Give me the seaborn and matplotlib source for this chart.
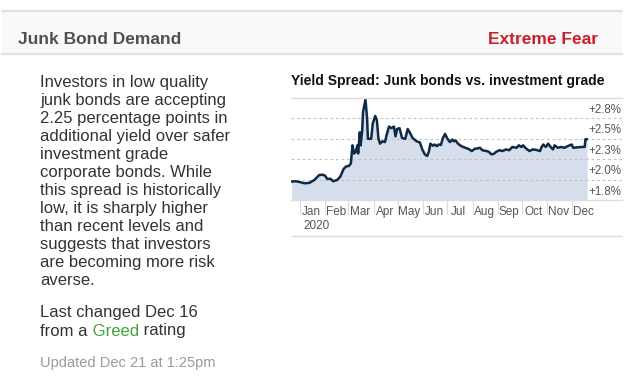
import numpy as np
import pandas as pd
import matplotlib
matplotlib.use('Agg')
import matplotlib.pyplot as plt
import matplotlib.dates as mdates
import matplotlib.transforms as mtransforms
from matplotlib.lines import Line2D
from matplotlib.patches import Rectangle
import seaborn as sns

# yield spread
dates = ['2019-12-22', '2019-12-27', '2020-01-01', '2020-01-07', '2020-01-13', '2020-01-19',
         '2020-01-25', '2020-01-29', '2020-02-01', '2020-02-04', '2020-02-08', '2020-02-11',
         '2020-02-16', '2020-02-20', '2020-02-24', '2020-02-27', '2020-03-02', '2020-03-04',
         '2020-03-06', '2020-03-08', '2020-03-10', '2020-03-12', '2020-03-13', '2020-03-15',
         '2020-03-16', '2020-03-18', '2020-03-19', '2020-03-22', '2020-03-24', '2020-03-25',
         '2020-03-29', '2020-03-31', '2020-04-03', '2020-04-05', '2020-04-07', '2020-04-09',
         '2020-04-12', '2020-04-15', '2020-04-17', '2020-04-20', '2020-04-23', '2020-04-26',
         '2020-04-28', '2020-04-30', '2020-05-03', '2020-05-06', '2020-05-10', '2020-05-13',
         '2020-05-16', '2020-05-19', '2020-05-24', '2020-05-28', '2020-05-31', '2020-06-03',
         '2020-06-06', '2020-06-08', '2020-06-10', '2020-06-13', '2020-06-15', '2020-06-18',
         '2020-06-20', '2020-06-23', '2020-06-25', '2020-06-28', '2020-07-01', '2020-07-04',
         '2020-07-07', '2020-07-09', '2020-07-11', '2020-07-14', '2020-07-18', '2020-07-23',
         '2020-07-27', '2020-07-31', '2020-08-04', '2020-08-06', '2020-08-10', '2020-08-13',
         '2020-08-18', '2020-08-21', '2020-08-24', '2020-08-27', '2020-08-30', '2020-09-03',
         '2020-09-07', '2020-09-11', '2020-09-15', '2020-09-19', '2020-09-24', '2020-09-27',
         '2020-09-30', '2020-10-02', '2020-10-06', '2020-10-10', '2020-10-14', '2020-10-18',
         '2020-10-23', '2020-10-25', '2020-10-27', '2020-10-30', '2020-11-02', '2020-11-05',
         '2020-11-08', '2020-11-10', '2020-11-14', '2020-11-18', '2020-11-22', '2020-11-26',
         '2020-12-01', '2020-12-03', '2020-12-08', '2020-12-13', '2020-12-17', '2020-12-18',
         '2020-12-20']
spread = [1.725, 1.73, 1.72, 1.705, 1.71, 1.745,
          1.806, 1.81, 1.80, 1.758, 1.76, 1.73,
          1.745, 1.786, 1.88, 1.91, 1.92, 1.95,
          2.17, 2.07, 2.09, 2.17, 2.07, 2.33,
          2.17, 2.36, 2.58, 2.73, 2.50, 2.25,
          2.25, 2.44, 2.53, 2.48, 2.25, 2.19,
          2.22, 2.21, 2.295, 2.40, 2.38, 2.40,
          2.28, 2.37, 2.38, 2.26, 2.25, 2.37,
          2.32, 2.26, 2.22, 2.205, 2.12, 2.06,
          2.04, 2.09, 2.19, 2.165, 2.18, 2.16,
          2.18, 2.175, 2.25, 2.31, 2.25, 2.21,
          2.24, 2.22, 2.23, 2.19, 2.16, 2.14,
          2.125, 2.10, 2.13, 2.13, 2.14, 2.11,
          2.10, 2.09, 2.06, 2.065, 2.09, 2.11,
          2.10, 2.12, 2.11, 2.15, 2.14, 2.17,
          2.15, 2.17, 2.13, 2.10, 2.12, 2.115,
          2.10, 2.15, 2.18, 2.15, 2.19, 2.15,
          2.12, 2.17, 2.14, 2.15, 2.14, 2.16,
          2.18, 2.14, 2.145, 2.15, 2.15, 2.245,
          2.245]

ytick_values = [1.75, 2.0, 2.25, 2.5, 2.75]
ytick_labels = ['+1.8%', '+2.0%', '+2.3%', '+2.5%', '+2.8%']
month_labels = ['Jan', 'Feb', 'Mar', 'Apr', 'May', 'Jun', 'Jul', 'Aug', 'Sep', 'Oct', 'Nov', 'Dec']

body_lines = ['Investors in low quality', 'junk bonds are accepting', '2.25 percentage points in',
              'additional yield over safer', 'investment grade', 'corporate bonds. While',
              'this spread is historically', 'low, it is sharply higher', 'than recent levels and',
              'suggests that investors', 'are becoming more risk', 'averse.']

W, H = 632, 380


def px(x, y):
    return x / W, 1 - y / H


sns.set_theme(style='white')
plt.rcParams['font.family'] = ['Liberation Sans', 'DejaVu Sans']

df = pd.DataFrame({'date': pd.to_datetime(dates), 'spread': spread})

fig = plt.figure(figsize=(6.32, 3.8), dpi=100)

# header band
fig.add_artist(Rectangle(px(2, 54), 620 / W, 43 / H, transform=fig.transFigure,
                         facecolor='#f9f9f9', edgecolor='none', zorder=0))
for yy in (11, 54):
    fig.add_artist(Line2D([2 / W, 622 / W], [1 - yy / H] * 2, transform=fig.transFigure,
                          color='#e2e2e2', lw=1.6))
fig.text(*px(18, 40), 'Junk Bond Demand', fontsize=12.5, fontweight='bold',
         color='#505050', va='center', ha='left')
fig.text(*px(598, 40), 'Extreme Fear', fontsize=12.5, fontweight='bold',
         color='#c8202d', va='center', ha='right')

# left description
for i, line in enumerate(body_lines):
    fig.text(*px(40, 82.7 + 18 * i), line, fontsize=12, color='#333333', va='center')
fig.text(*px(40, 313), 'Last changed Dec 16', fontsize=12, color='#333333', va='center')
t1 = fig.text(*px(40, 331), 'from a', fontsize=12, color='#333333', va='center')
fig.text(*px(40, 363), 'Updated Dec 21 at 1:25pm', fontsize=10.5, color='#9a9a9a', va='center')

# chart
fig.text(*px(291, 80.7), 'Yield Spread: Junk bonds vs. investment grade', fontsize=10,
         fontweight='bold', color='#111111', va='center')

ax = fig.add_axes([291 / W, 1 - 200 / H, 331 / W, 102 / H])
ax.set_facecolor('none')
ax.fill_between(df['date'], 1.5, df['spread'], color='#d5deea', lw=0, zorder=1)
for v in ytick_values[:-1]:
    ax.axhline(v, color='#c4c4c4', lw=0.8, ls=(0, (2.5, 2.5)), zorder=1.5)
sns.lineplot(data=df, x='date', y='spread', ax=ax, color='#0e2a44', lw=1.8, zorder=2)

ax.set_xlim(pd.Timestamp('2019-12-21 06:00'), pd.Timestamp('2021-02-01'))
ax.set_ylim(1.5, 2.75)
ax.set_xlabel('')
ax.set_ylabel('')
ax.set_yticks([])

month_starts = pd.date_range('2020-01-01', '2020-12-01', freq='MS')
ax.set_xticks(month_starts)
ax.set_xticklabels([''] * len(month_starts))
ax.set_xticks(month_starts + pd.Timedelta(days=14), minor=True)
ax.set_xticklabels(month_labels, minor=True)
ax.tick_params(axis='x', which='major', length=10, width=0.8, color='#dcdcdc', direction='out', bottom=True)
ax.tick_params(axis='x', which='minor', length=0, pad=4.5, labelsize=8.5, labelcolor='#555555')

for side in ['left', 'right']:
    ax.spines[side].set_visible(False)
for side in ['top', 'bottom']:
    ax.spines[side].set_color('#dddddd')
    ax.spines[side].set_linewidth(1)
ax.spines['bottom'].set_zorder(0.5)

# y labels hang under their grid lines
lab_tr = mtransforms.blended_transform_factory(ax.transAxes, ax.transData) + \
    mtransforms.ScaledTranslation(0, -12 / 100, fig.dpi_scale_trans)
for v, lab in zip(ytick_values, ytick_labels):
    ax.text(0.997, v, lab, transform=lab_tr, ha='right', va='center', fontsize=8.3, color='#555555')

ax.text(pd.Timestamp('2020-01-06'), -0.255, '2020', transform=ax.get_xaxis_transform(),
        ha='left', va='center', fontsize=8.5, color='#555555')

fig.add_artist(Line2D([292 / W, 622 / W], [1 - 236 / H] * 2, transform=fig.transFigure,
                      color='#dddddd', lw=1))

t2 = ax.annotate(' Greed', xycoords=t1, xy=(1, 0), va='bottom', fontsize=12, color='#3fa53f')
ax.annotate(' rating', xycoords=t2, xy=(1, 0), va='bottom', fontsize=12, color='#333333')

fig.savefig('out.png', dpi=100)
